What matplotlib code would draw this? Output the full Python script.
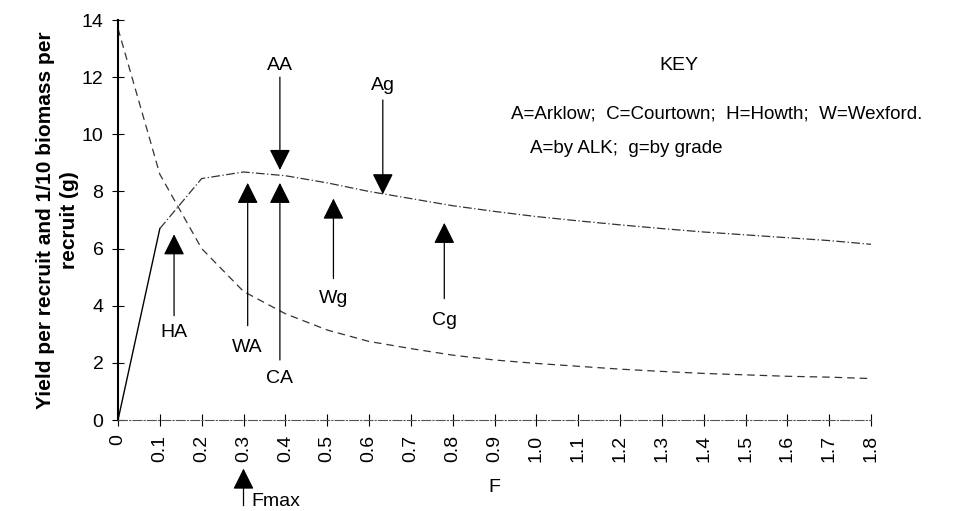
import matplotlib.pyplot as plt
import numpy as np

plt.rcParams['font.family'] = ['Liberation Sans', 'DejaVu Sans']

# fishing mortality F
F = [0, 0.1, 0.2, 0.3, 0.4, 0.5, 0.6, 0.7, 0.8, 0.9,
     1.0, 1.1, 1.2, 1.3, 1.4, 1.5, 1.6, 1.7, 1.8]
f_labels = ['0', '0.1', '0.2', '0.3', '0.4', '0.5', '0.6', '0.7', '0.8', '0.9',
            '1.0', '1.1', '1.2', '1.3', '1.4', '1.5', '1.6', '1.7', '1.8']
yield_per_recruit = [0, 6.7, 8.45, 8.68, 8.55, 8.3, 8.0, 7.75, 7.5, 7.3,
                     7.12, 6.97, 6.83, 6.7, 6.58, 6.48, 6.38, 6.28, 6.15]
biomass_tenth = [13.7, 8.6, 6.0, 4.5, 3.72, 3.15, 2.75, 2.5, 2.27, 2.1,
                 1.98, 1.88, 1.78, 1.7, 1.63, 1.58, 1.53, 1.5, 1.45]

# arrows: label, F position, tip, tail, label y
up_labels = ['HA', 'WA', 'CA', 'Wg', 'Cg']
up_f = [0.134, 0.31, 0.387, 0.515, 0.78]
up_tip = [6.5, 8.3, 8.3, 7.75, 6.9]
up_tail = [3.65, 3.3, 2.1, 4.95, 4.25]
up_text_y = [3.05, 2.55, 1.45, 4.25, 3.5]

down_labels = ['AA', 'Ag']
down_f = [0.387, 0.633]
down_tip = [8.75, 7.9]
down_tail = [12.0, 11.2]
down_text_y = [12.4, 11.7]

fmax = 0.3

fig = plt.figure(figsize=(9.65, 5.11), dpi=100)
ax = fig.add_axes([118 / 965, 91 / 511, 753 / 965, 400 / 511])

ax.plot(F[:2], yield_per_recruit[:2], color='black', lw=1.0)
ax.plot(F[1:], yield_per_recruit[1:], color='#333333', lw=0.9,
        linestyle=(0, (7, 2, 1, 2)))
ax.plot(F, biomass_tenth, color='#333333', lw=0.9, linestyle=(0, (6, 4)))

ax.set_xlim(0, 1.8)
ax.set_ylim(0, 14)
ax.set_xticks(F)
ax.set_xticklabels(f_labels, rotation=90, fontsize=14)
ax.set_yticks(np.arange(0, 15, 2))
ax.tick_params(axis='both', direction='inout', length=9, width=0.8,
               labelsize=14, pad=6)
for s in ['top', 'right']:
    ax.spines[s].set_visible(False)
ax.spines['left'].set_linestyle((0, (1, 1)))
ax.spines['left'].set_linewidth(1.5)
ax.spines['bottom'].set_linestyle((0, (8, 2, 1, 2)))
ax.spines['bottom'].set_color('#555555')

ax.set_xlabel('F', fontsize=14, labelpad=12)
ax.set_ylabel('Yield per recruit and 1/10 biomass per\nrecruit (g)',
              fontsize=15, fontweight='bold', labelpad=2, linespacing=1.35)

head = dict(arrowstyle='-|>,head_length=1.3,head_width=0.65',
            color='black', lw=0.9, shrinkA=0, shrinkB=0, mutation_scale=10)

for lab, x, tip, tail, ty in zip(up_labels, up_f, up_tip, up_tail, up_text_y):
    ax.annotate('', xy=(x, tip), xytext=(x, tail), arrowprops=head)
    ax.text(x, ty, lab, ha='center', va='center', fontsize=14)

for lab, x, tip, tail, ty in zip(down_labels, down_f, down_tip, down_tail, down_text_y):
    ax.annotate('', xy=(x, tip), xytext=(x, tail), arrowprops=head)
    ax.text(x, ty, lab, ha='center', va='center', fontsize=14)

ax.annotate('', xy=(fmax, -1.7), xytext=(fmax, -3.0), arrowprops=head,
            annotation_clip=False)
ax.text(fmax + 0.02, -2.85, 'Fmax', ha='left', va='center', fontsize=14,
        clip_on=False)

ax.text(1.34, 12.4, 'KEY', ha='center', va='center', fontsize=14)
ax.text(0.94, 10.72, 'A=Arklow;  C=Courtown;  H=Howth;  W=Wexford.',
        ha='left', va='center', fontsize=13.5)
ax.text(0.985, 9.5, 'A=by ALK;  g=by grade', ha='left', va='center',
        fontsize=13.5)

fig.savefig('out.png', dpi=100)
